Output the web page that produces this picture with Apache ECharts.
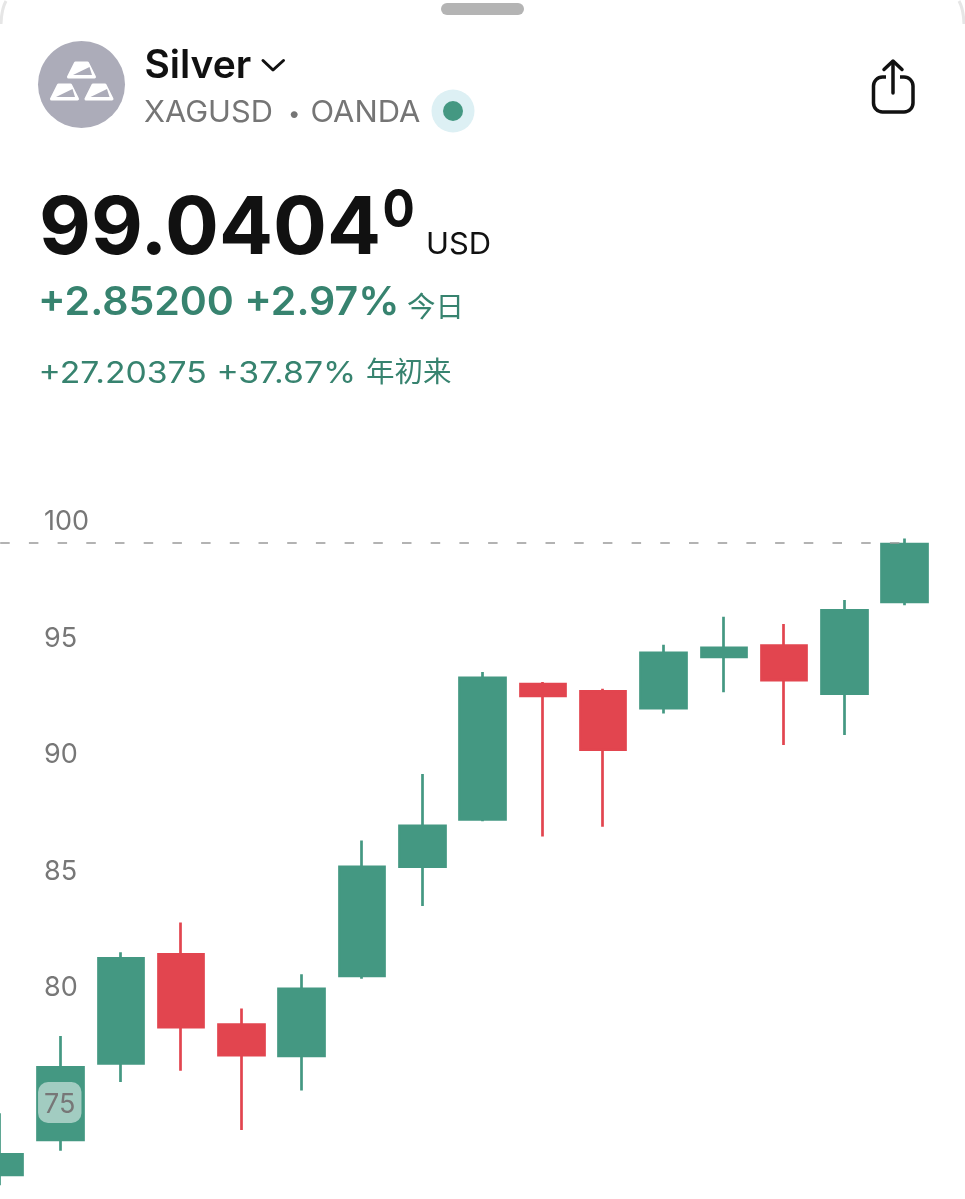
<!DOCTYPE html>
<html>
<head>
<meta charset="utf-8">
<style>html,body{margin:0;padding:0;background:#fff}#c{width:965px;height:1199px}</style>
<script src="https://cdn.jsdelivr.net/npm/echarts@6/dist/echarts.min.js"></script>
</head>
<body>
<div id="c"></div>
<script>
const categories = ['1','2','3','4','5','6','7','8','9','10','11','12','13','14','15','16'];
const opens  = [71.89,73.39,76.68,81.36,78.34,77.00,80.43,85.12,87.15,92.96,92.65,91.93,94.12,94.61,92.55,96.49];
const closes = [72.78,76.51,81.19,78.23,77.03,79.88,85.11,86.87,93.23,92.45,90.14,94.30,94.51,93.13,96.12,98.97];
const lows   = [71.45,72.93,75.88,76.36,73.82,75.51,80.31,83.43,87.07,86.42,86.84,91.70,92.61,90.34,90.77,96.34];
const highs  = [74.54,77.85,81.45,82.73,79.03,80.50,86.24,89.10,93.48,93.05,92.76,94.65,95.85,95.54,96.57,99.21];
const yTickLabels = [75,80,85,90,95,100];
const lastPrice = 99.04;

const titleText = 'Silver';
const symbolText = 'XAGUSD';
const sepText = '•';
const exchangeText = 'OANDA';
const priceText = '99.0404';
const priceSupText = '0';
const currencyText = 'USD';
const dayChangeText = '+2.85200 +2.97%';
const dayLabelText = '今日';
const ytdChangeText = '+27.20375 +37.87%';
const ytdLabelText = '年初来';

const GREEN = '#449882', RED = '#E2454F', TXT = '#37836F';
const FF = 'Inter, "Noto Sans CJK SC", sans-serif';

function txt(text, x, y, size, weight, fill, sx) {
  return {type:'text', x:x, y:y, scaleX:sx||1, silent:true, style:{text:text, fontFamily:FF, fontSize:size, fontWeight:weight, fill:fill, align:'left', verticalAlign:'middle'}};
}
function pline(points, style) {
  return {type:'polyline', silent:true, shape:{points:points}, style:Object.assign({fill:'none', lineCap:'round', lineJoin:'round'}, style)};
}
function curve(x1,y1,cx,cy,x2,y2, style) {
  return {type:'bezierCurve', silent:true, shape:{x1:x1,y1:y1,cpx1:cx,cpy1:cy,x2:x2,y2:y2}, style:Object.assign({fill:'none'}, style)};
}
function bar(dx, dy) {
  const X = v => v + dx, Y = v => v + dy;
  return [
    {type:'polygon', silent:true, shape:{points:[[X(75.5),Y(63)],[X(87.5),Y(63)],[X(94.5),Y(77)],[X(68.5),Y(77)]]}, style:{fill:'#fff', stroke:'#fff', lineWidth:3, lineJoin:'round'}},
    {type:'polygon', silent:true, shape:{points:[[X(73),Y(75)],[X(89.5),Y(67)],[X(92),Y(75)]]}, style:{fill:'#ACACB9'}}
  ];
}

const graphic = [
  {type:'rect', silent:true, shape:{x:441,y:3,width:83,height:12,r:6}, style:{fill:'#B4B4B4'}},
  curve(1,24,1.5,9,6,1, {stroke:'#E6E6E6', lineWidth:3}),
  curve(964,24,963.5,9,959,1, {stroke:'#E6E6E6', lineWidth:3}),
  {type:'circle', silent:true, shape:{cx:81.5,cy:84.5,r:43.5}, style:{fill:'#ACACB9'}},
  ...bar(0,0), ...bar(-17,22), ...bar(17.5,22),
  txt(titleText, 144.5, 66, 39, 600, '#111111'),
  pline([[263,60.5],[273,70],[283.5,60.5]], {stroke:'#111', lineWidth:3}),
  txt(symbolText, 144, 113, 30, 400, '#757575', 1.025),
  txt(sepText, 288, 114, 22, 400, '#757575'),
  txt(exchangeText, 310.5, 113, 30, 400, '#757575', 1.03),
  {type:'circle', silent:true, shape:{cx:453,cy:111,r:21.5}, style:{fill:'#DDF0F4'}},
  {type:'circle', silent:true, shape:{cx:453,cy:111,r:10}, style:{fill:GREEN}},
  {type:'rect', silent:true, shape:{x:873.5,y:77,width:39.5,height:35,r:9}, style:{fill:'none', stroke:'#111', lineWidth:3.5}},
  {type:'rect', silent:true, shape:{x:886,y:73,width:14,height:8}, style:{fill:'#fff'}},
  pline([[893,93],[893,62]], {stroke:'#111', lineWidth:3.5}),
  pline([[884,69.5],[893,61],[902,69.5]], {stroke:'#111', lineWidth:3.5}),
  txt(priceText, 39, 229.5, 80, 700, '#111111'),
  txt(priceSupText, 382.5, 211.5, 52, 700, '#111111', 0.92),
  txt(currencyText, 426, 245, 30, 400, '#111111', 1.03),
  txt(dayChangeText, 38, 303, 40, 600, TXT, 1.026),
  txt(dayLabelText, 407, 308, 28.5, 400, TXT),
  txt(ytdChangeText, 38.5, 373.5, 30, 400, TXT, 1.125),
  txt(ytdLabelText, 366, 373.5, 28.5, 400, TXT)
];

const chart = echarts.init(document.getElementById('c'), null, {renderer:'canvas'});
chart.setOption({
  animation:false,
  backgroundColor:'#fff',
  grid:{left:-29.95, top:403.5, width:964.8, height:815.5, containLabel:false, outerBoundsMode:'none'},
  xAxis:{type:'category', data:categories, show:false, boundaryGap:true},
  yAxis:{
    type:'value', min:70, max:105, interval:5, scale:false, z:10,
    axisLine:{show:false}, axisTick:{show:false}, splitLine:{show:false},
    axisLabel:{
      inside:true, margin:68, customValues:yTickLabels,
      align:'left', verticalAlign:'middle',
      formatter:'{t|{value}}',
      rich:{t:{fontFamily:FF, fontSize:27, color:'#777777', lineHeight:27, padding:[4,0,0,0]}},
      backgroundColor:'rgba(255,255,255,0.5)', borderRadius:10, padding:[7,6,7,6]
    }
  },
  series:[{
    type:'candlestick',
    barWidth:46,
    data:categories.map((c,i)=>[opens[i],closes[i],lows[i],highs[i]]),
    itemStyle:{color:GREEN, color0:RED, borderColor:GREEN, borderColor0:RED, borderWidth:2.7},
    markLine:{
      silent:true, symbol:'none', animation:false,
      label:{show:false},
      lineStyle:{color:'#9A9A9A', width:1.5, type:[9.5,19.2]},
      data:[[{xAxis:0,yAxis:lastPrice},{xAxis:15,yAxis:lastPrice}]]
    }
  }],
  graphic:{elements:graphic}
});
</script>
</body>
</html>
